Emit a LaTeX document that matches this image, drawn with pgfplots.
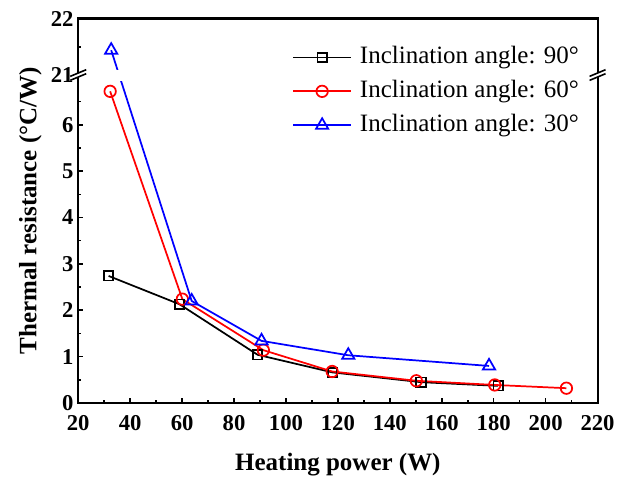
\documentclass[border=0pt]{standalone}
\usepackage{fontspec}
\setmainfont{Liberation Serif}
\usepackage{pgfplots}
\pgfplotsset{compat=1.18}
\usetikzlibrary{calc}
\begin{document}
\begin{tikzpicture}
\begin{axis}[
  name=ax,
  scale only axis,
  width=389.8pt, height=288.6pt,
  xmin=20, xmax=220, ymin=0, ymax=22,
  y coord trafo/.code={\pgfmathparse{#1>14 ? 7.07+(#1-21)*1.22 : #1}},
  xtick={20,40,...,220},
  minor xtick={30,50,...,210},
  ytick={0,1,2,3,4,5,6,21,22},
  yticklabels={0,1,2,3,4,5,6,21,22},
  minor ytick={0.5,1.5,2.5,3.5,4.5,5.5,6.5,21.5},
  xtick pos=bottom, ytick pos=left,
  tick align=inside,
  major tick length=3.75pt, minor tick length=2.25pt,
  every tick/.style={line width=1.2pt, black},
  axis line style={line width=1.6pt},
  /pgf/number format/assume math mode=true,
  tick label style={font=\fontsize{17}{17}\selectfont\bfseries},
  xticklabel style={yshift=-6pt},
  label style={font=\fontsize{18.75}{20}\selectfont\bfseries},
  xlabel={Heating power (W)},
  xlabel style={yshift=-10pt},
  ylabel={Thermal resistance (°C/W)},
  clip=false,
  legend cell align=left,
  legend style={draw=none, fill=none, at={(0.404,0.936)}, anchor=north west,
    font=\fontsize{18.75}{20}\selectfont,
    nodes={inner sep=0pt, text height=13pt, text depth=4pt},
    row sep=8.5pt, column sep=6pt},
  legend image code/.code={\draw[mark repeat=2,mark phase=2] plot coordinates {(0pt,0pt)(21.75pt,0pt)(43.5pt,0pt)};},
]
\addplot[black, line width=1.3pt, mark=square, mark size=3.5pt, mark options={solid, line width=1.3pt, fill=white}]
 coordinates {(31.7,2.74)(59,2.13)(89.1,1.04)(118,0.66)(152,0.45)(181.7,0.37)};
\addlegendentry{Inclination angle: 90°}
\addplot[red, line width=1.3pt, mark=o, mark size=4.3pt, mark options={solid, line width=1.3pt, fill=white}]
 coordinates {(32.3,6.72)(60.1,2.24)(91.3,1.14)(117.8,0.68)(150.2,0.48)(180.4,0.39)(208,0.32)};
\addlegendentry{Inclination angle: 60°}
\addplot[blue, line width=1.3pt, mark=triangle, mark size=5.3pt, mark options={solid, line width=1.3pt, fill=white}]
 coordinates {(32.7,21.44)(63.7,2.2)(90.6,1.34)(124,1.03)(178.2,0.80)};
\addlegendentry{Inclination angle: 30°}
\fill[white] (axis cs:20.6,6.95) rectangle (axis cs:219.4,7.18);
\end{axis}
\foreach \c in {west,east}{
  \coordinate (b) at ($(ax.south \c)!0.853!(ax.north \c)$);
  \fill[white] ($(b)+(-6pt,-4pt)$) -- ++(12pt,5pt) -- ++(0,3pt) -- ++(-12pt,-5pt) -- cycle;
  \draw[line width=1.2pt] ($(b)+(-6pt,-4pt)$) -- ++(12pt,5pt);
  \draw[line width=1.2pt] ($(b)+(-6pt,-1pt)$) -- ++(12pt,5pt);
}
\path ($(ax.south west)+(-58.7pt,-56pt)$) rectangle ($(ax.north east)+(15.75pt,13.9pt)$);
\end{tikzpicture}
\end{document}
